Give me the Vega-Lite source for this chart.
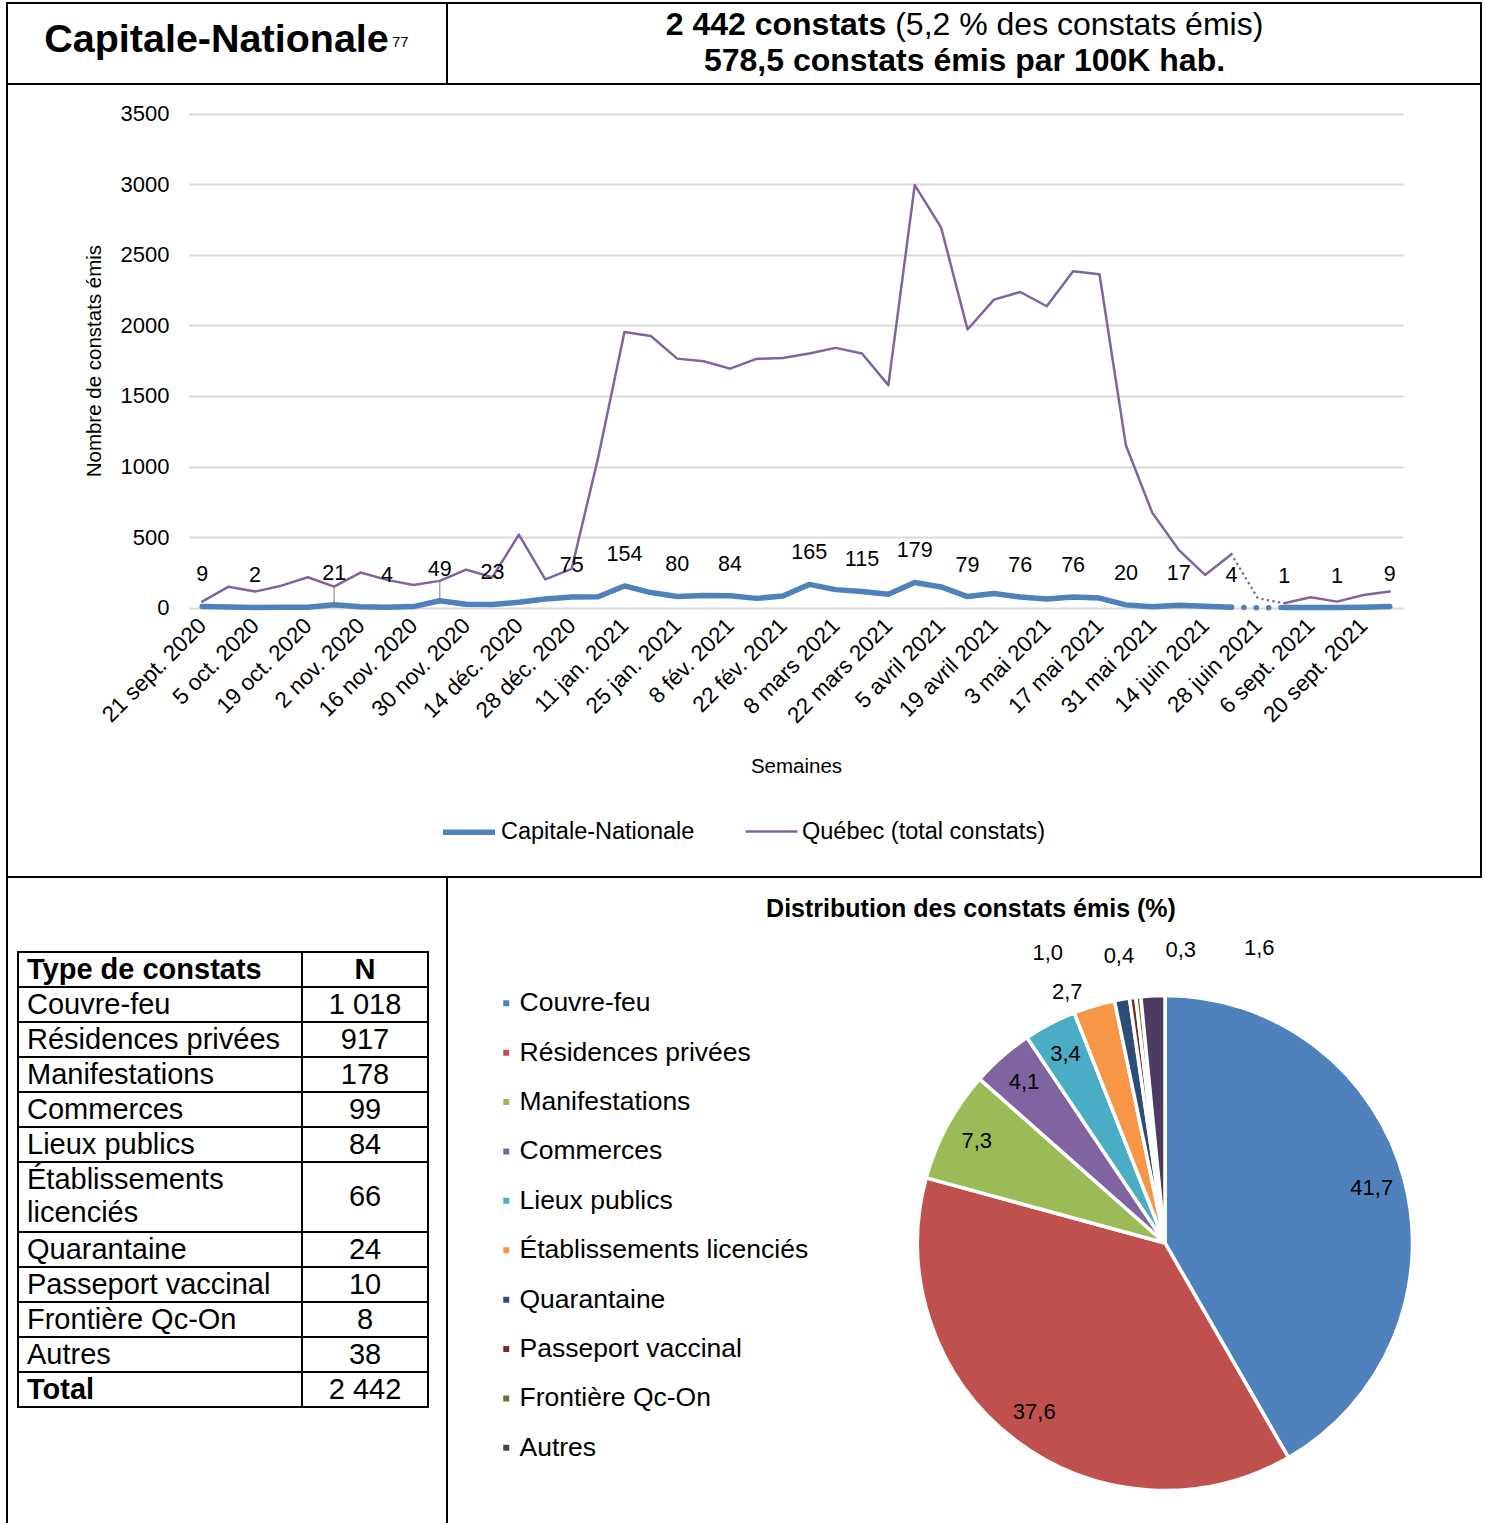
{
  "$schema": "https://vega.github.io/schema/vega-lite/v6.json",
  "background": "white",
  "padding": {"left": 6, "top": 1, "right": 0, "bottom": 0},
  "spacing": 0,
  "bounds": "flush",
  "resolve": {"scale": {"color": "independent", "strokeWidth": "independent"}, "legend": {"color": "independent", "strokeWidth": "independent"}},
  "config": {
    "font": "Liberation Sans",
    "view": {"stroke": "black", "strokeWidth": 2},
    "locale": {"number": {"decimal": ",", "thousands": " ", "grouping": [3], "currency": ["", " $"]}},
    "text": {"color": "black"}
  },
  "datasets": {
    "semaines": [
      {"date": "2020-09-21", "Capitale-Nationale": 9, "Québec (total constats)": 43},
      {"date": "2020-09-28", "Capitale-Nationale": 5, "Québec (total constats)": 149},
      {"date": "2020-10-05", "Capitale-Nationale": 2, "Québec (total constats)": 114},
      {"date": "2020-10-12", "Capitale-Nationale": 3, "Québec (total constats)": 156},
      {"date": "2020-10-19", "Capitale-Nationale": 3, "Québec (total constats)": 216},
      {"date": "2020-10-26", "Capitale-Nationale": 21, "Québec (total constats)": 149},
      {"date": "2020-11-02", "Capitale-Nationale": 6, "Québec (total constats)": 249},
      {"date": "2020-11-09", "Capitale-Nationale": 4, "Québec (total constats)": 197},
      {"date": "2020-11-16", "Capitale-Nationale": 8, "Québec (total constats)": 161},
      {"date": "2020-11-23", "Capitale-Nationale": 49, "Québec (total constats)": 190},
      {"date": "2020-11-30", "Capitale-Nationale": 25, "Québec (total constats)": 270},
      {"date": "2020-12-07", "Capitale-Nationale": 23, "Québec (total constats)": 216},
      {"date": "2020-12-14", "Capitale-Nationale": 38, "Québec (total constats)": 518},
      {"date": "2020-12-21", "Capitale-Nationale": 62, "Québec (total constats)": 201},
      {"date": "2020-12-28", "Capitale-Nationale": 75, "Québec (total constats)": 275},
      {"date": "2021-01-04", "Capitale-Nationale": 78, "Québec (total constats)": 1060},
      {"date": "2021-01-11", "Capitale-Nationale": 154, "Québec (total constats)": 1953},
      {"date": "2021-01-18", "Capitale-Nationale": 107, "Québec (total constats)": 1924},
      {"date": "2021-01-25", "Capitale-Nationale": 80, "Québec (total constats)": 1764},
      {"date": "2021-02-01", "Capitale-Nationale": 86, "Québec (total constats)": 1745},
      {"date": "2021-02-08", "Capitale-Nationale": 84, "Québec (total constats)": 1693},
      {"date": "2021-02-15", "Capitale-Nationale": 66, "Québec (total constats)": 1762},
      {"date": "2021-02-22", "Capitale-Nationale": 83, "Québec (total constats)": 1769},
      {"date": "2021-03-01", "Capitale-Nationale": 165, "Québec (total constats)": 1800},
      {"date": "2021-03-08", "Capitale-Nationale": 128, "Québec (total constats)": 1840},
      {"date": "2021-03-15", "Capitale-Nationale": 115, "Québec (total constats)": 1800},
      {"date": "2021-03-22", "Capitale-Nationale": 95, "Québec (total constats)": 1576},
      {"date": "2021-03-29", "Capitale-Nationale": 179, "Québec (total constats)": 2993},
      {"date": "2021-04-05", "Capitale-Nationale": 147, "Québec (total constats)": 2692},
      {"date": "2021-04-12", "Capitale-Nationale": 79, "Québec (total constats)": 1970},
      {"date": "2021-04-19", "Capitale-Nationale": 101, "Québec (total constats)": 2182},
      {"date": "2021-04-26", "Capitale-Nationale": 76, "Québec (total constats)": 2236},
      {"date": "2021-05-03", "Capitale-Nationale": 62, "Québec (total constats)": 2135},
      {"date": "2021-05-10", "Capitale-Nationale": 76, "Québec (total constats)": 2383},
      {"date": "2021-05-17", "Capitale-Nationale": 68, "Québec (total constats)": 2362},
      {"date": "2021-05-24", "Capitale-Nationale": 20, "Québec (total constats)": 1150},
      {"date": "2021-05-31", "Capitale-Nationale": 6, "Québec (total constats)": 672},
      {"date": "2021-06-07", "Capitale-Nationale": 17, "Québec (total constats)": 410},
      {"date": "2021-06-14", "Capitale-Nationale": 11, "Québec (total constats)": 232},
      {"date": "2021-06-21", "Capitale-Nationale": 4, "Québec (total constats)": 379},
      {"date": "2021-06-28", "Capitale-Nationale": 0, "Québec (total constats)": 67},
      {"date": "2021-08-30", "Capitale-Nationale": 1, "Québec (total constats)": 31},
      {"date": "2021-09-06", "Capitale-Nationale": 2, "Québec (total constats)": 74},
      {"date": "2021-09-13", "Capitale-Nationale": 1, "Québec (total constats)": 43},
      {"date": "2021-09-20", "Capitale-Nationale": 3, "Québec (total constats)": 90},
      {"date": "2021-09-27", "Capitale-Nationale": 9, "Québec (total constats)": 114}
    ],
    "constats": [
      {"type": "Couvre-feu", "n": 1018, "pct": 41.7},
      {"type": "Résidences privées", "n": 917, "pct": 37.6},
      {"type": "Manifestations", "n": 178, "pct": 7.3},
      {"type": "Commerces", "n": 99, "pct": 4.1},
      {"type": "Lieux publics", "n": 84, "pct": 3.4},
      {"type": "Établissements licenciés", "n": 66, "pct": 2.7},
      {"type": "Quarantaine", "n": 24, "pct": 1.0},
      {"type": "Passeport vaccinal", "n": 10, "pct": 0.4},
      {"type": "Frontière Qc-On", "n": 8, "pct": 0.3},
      {"type": "Autres", "n": 38, "pct": 1.6}
    ]
  },
  "vconcat": [
    {
      "width": 1474,
      "height": 81,
      "data": {"values": [{"titre": "Capitale-Nationale", "note": "77", "a": "2 442 constats", "b": "(5,2 % des constats émis)", "c": "578,5 constats émis par 100K hab."}]},
      "layer": [
        {"mark": {"type": "rule", "strokeWidth": 2, "color": "black"},
         "encoding": {
           "x": {"datum": 440, "type": "quantitative", "scale": {"domain": [0, 1474], "range": [0, 1474], "nice": false, "zero": false}, "axis": null},
           "y": {"datum": 0, "type": "quantitative", "scale": {"domain": [0, 81], "range": [0, 81], "nice": false, "zero": false}, "axis": null},
           "y2": {"datum": 81}}},
        {"mark": {"type": "text", "fontSize": 39.5, "fontWeight": "bold", "align": "center", "baseline": "alphabetic"},
         "encoding": {"x": {"datum": 209.5, "type": "quantitative"}, "y": {"datum": 48.7, "type": "quantitative"}, "text": {"field": "titre"}}},
        {"mark": {"type": "text", "fontSize": 15, "align": "left", "baseline": "alphabetic"},
         "encoding": {"x": {"datum": 385, "type": "quantitative"}, "y": {"datum": 43.7, "type": "quantitative"}, "text": {"field": "note"}}},
        {"mark": {"type": "text", "fontSize": 32, "fontWeight": "bold", "align": "right", "baseline": "alphabetic"},
         "encoding": {"x": {"datum": 879.3, "type": "quantitative"}, "y": {"datum": 32, "type": "quantitative"}, "text": {"field": "a"}}},
        {"mark": {"type": "text", "fontSize": 32, "align": "left", "baseline": "alphabetic"},
         "encoding": {"x": {"datum": 888.2, "type": "quantitative"}, "y": {"datum": 32, "type": "quantitative"}, "text": {"field": "b"}}},
        {"mark": {"type": "text", "fontSize": 32, "fontWeight": "bold", "align": "center", "baseline": "alphabetic"},
         "encoding": {"x": {"datum": 957.5, "type": "quantitative"}, "y": {"datum": 68, "type": "quantitative"}, "text": {"field": "c"}}}
      ]
    },
    {
      "width": 1474,
      "height": 793,
      "data": {"name": "semaines"},
      "transform": [{"fold": ["Capitale-Nationale", "Québec (total constats)"], "as": ["serie", "valeur"]}],
      "encoding": {
        "x": {
          "field": "date",
          "type": "ordinal",
          "scale": {"type": "point", "range": [182, 1396], "padding": 0.5},
          "axis": {
            "orient": "bottom",
            "offset": -269.3,
            "domain": false,
            "ticks": false,
            "grid": false,
            "labelAngle": -45,
            "labelAlign": "right",
            "labelBaseline": "middle",
            "labelPadding": 14,
            "labelFontSize": 22.5,
            "labelColor": "black",
            "labelOverlap": false,
            "labelLimit": 400,
            "labelExpr": "((time(toDate(datum.value)) - time(toDate('2020-09-21'))) / 604800000) % 2 == 0 ? (utcdate(toDate(datum.value)) + ' ' + ['jan.', 'fév.', 'mars', 'avril', 'mai', 'juin', 'juil.', 'août', 'sept.', 'oct.', 'nov.', 'déc.'][utcmonth(toDate(datum.value))] + ' ' + utcyear(toDate(datum.value))) : ''",
            "title": "Semaines",
            "titleFontSize": 20.5,
            "titleFontWeight": "normal",
            "titleColor": "black",
            "titlePadding": 29
          }
        },
        "y": {
          "field": "valeur",
          "type": "quantitative",
          "scale": {"domain": [0, 3500], "range": [523.7, 29.5], "nice": false, "zero": false},
          "axis": {
            "orient": "left",
            "offset": -182,
            "values": [0, 500, 1000, 1500, 2000, 2500, 3000, 3500],
            "format": "d",
            "domain": false,
            "ticks": false,
            "grid": true,
            "gridColor": "#D9D9D9",
            "gridWidth": 2,
            "labelFontSize": 22,
            "labelPadding": 20,
            "labelColor": "black",
            "title": "Nombre de constats émis",
            "titleFontSize": 20.5,
            "titleFontWeight": "normal",
            "titleColor": "black",
            "titlePadding": 16
          }
        }
      },
      "layer": [
        {
          "transform": [{"filter": {"and": [{"field": "serie", "equal": "Capitale-Nationale"}, {"field": "date", "oneOf": ["2020-10-26", "2020-11-23"]}]}}],
          "mark": {"type": "rule", "color": "#A6A6A6", "strokeWidth": 1.5},
          "encoding": {"y2": {"field": "Québec (total constats)"}}
        },
        {
          "transform": [{"filter": "datum.date <= '2021-06-21'"}],
          "mark": {"type": "line", "strokeJoin": "round", "strokeCap": "round"},
          "encoding": {
            "color": {"field": "serie", "type": "nominal", "scale": {"domain": ["Capitale-Nationale", "Québec (total constats)"], "range": ["#4F81BD", "#8064A2"]},
              "legend": {"orient": "none", "legendX": 433, "legendY": 719, "direction": "horizontal", "title": null, "symbolType": "stroke", "symbolSize": 2704, "labelFontSize": 23.5, "labelColor": "black", "labelLimit": 0, "columnPadding": 45, "labelOffset": 3, "padding": 0}},
            "strokeWidth": {"field": "serie", "type": "nominal", "scale": {"domain": ["Capitale-Nationale", "Québec (total constats)"], "range": [5.5, 2.5]},
              "legend": {"orient": "none", "legendX": 433, "legendY": 719, "direction": "horizontal", "title": null, "symbolType": "stroke", "symbolSize": 2704, "labelFontSize": 23.5, "labelColor": "black", "labelLimit": 0, "columnPadding": 45, "labelOffset": 3, "padding": 0}}
          }
        },
        {
          "transform": [{"filter": "datum.date >= '2021-08-30'"}],
          "mark": {"type": "line", "strokeJoin": "round", "strokeCap": "round"},
          "encoding": {
            "color": {"field": "serie", "type": "nominal"},
            "strokeWidth": {"field": "serie", "type": "nominal"}
          }
        },
        {
          "transform": [{"filter": "datum.serie == 'Québec (total constats)' && datum.date >= '2021-06-21' && datum.date <= '2021-08-30'"}],
          "mark": {"type": "line", "strokeCap": "round", "strokeDash": [0.1, 5.5]},
          "encoding": {
            "color": {"field": "serie", "type": "nominal"},
            "strokeWidth": {"field": "serie", "type": "nominal"}
          }
        },
        {
          "transform": [{"filter": "datum.serie == 'Capitale-Nationale' && datum.date >= '2021-06-21' && datum.date <= '2021-08-30'"}],
          "mark": {"type": "line", "strokeCap": "round", "strokeDash": [0.1, 12.3]},
          "encoding": {
            "color": {"field": "serie", "type": "nominal"},
            "strokeWidth": {"field": "serie", "type": "nominal"}
          }
        },
        {
          "transform": [{"filter": {"and": [{"field": "serie", "equal": "Capitale-Nationale"}, {"field": "date", "oneOf": ["2020-09-21", "2020-10-05", "2020-10-26", "2020-11-09", "2020-11-23", "2020-12-07", "2020-12-28", "2021-01-11", "2021-01-25", "2021-02-08", "2021-03-01", "2021-03-15", "2021-03-29", "2021-04-12", "2021-04-26", "2021-05-10", "2021-05-24", "2021-06-07", "2021-06-21", "2021-08-30", "2021-09-13", "2021-09-27"]}]}}],
          "mark": {"type": "text", "fontSize": 21.5, "baseline": "middle", "dy": -31, "color": "black"},
          "encoding": {"text": {"field": "valeur", "type": "quantitative", "format": "d"}}
        }
      ]
    },
    {
      "hconcat": [
        {
          "width": 440,
          "height": 732,
          "layer": [
            {
              "data": {"values": [{"c1": "Type de constats", "c2": "N"}]},
              "layer": [
                {"mark": {"type": "rect", "fillOpacity": 0, "stroke": "black", "strokeWidth": 2},
                 "encoding": {
                   "x": {"datum": 0, "type": "quantitative", "scale": {"domain": [0, 410], "range": [11, 421], "nice": false, "zero": false}, "axis": null},
                   "x2": {"datum": 410},
                   "y": {"datum": 0, "type": "quantitative", "scale": {"domain": [0, 13], "range": [75, 530], "nice": false, "zero": false}, "axis": null},
                   "y2": {"datum": 1}}},
                {"mark": {"type": "text", "fontSize": 29, "fontWeight": "bold", "align": "left", "baseline": "middle"},
                 "encoding": {"x": {"datum": 9, "type": "quantitative"}, "y": {"datum": 0.5, "type": "quantitative"}, "text": {"field": "c1"}}},
                {"mark": {"type": "text", "fontSize": 29, "fontWeight": "bold", "align": "center", "baseline": "middle"},
                 "encoding": {"x": {"datum": 347, "type": "quantitative"}, "y": {"datum": 0.5, "type": "quantitative"}, "text": {"field": "c2"}}}
              ]
            },
            {
              "data": {"name": "constats"},
              "transform": [
                {"calculate": "length(datum.type) > 20 ? 2 : 1", "as": "lignes"},
                {"calculate": "length(datum.type) > 20 ? replace(datum.type, ' ', '\\n') : datum.type", "as": "texte"},
                {"window": [{"op": "sum", "field": "lignes", "as": "cumul"}], "frame": [null, 0]},
                {"calculate": "datum.cumul - datum.lignes + 1", "as": "debut"},
                {"calculate": "datum.cumul + 1", "as": "fin"},
                {"calculate": "(datum.debut + datum.fin) / 2", "as": "milieu"},
                {"calculate": "datum.debut + 0.5", "as": "premiere"}
              ],
              "layer": [
                {"mark": {"type": "rect", "fillOpacity": 0, "stroke": "black", "strokeWidth": 2},
                 "encoding": {"x": {"datum": 0, "type": "quantitative"}, "x2": {"datum": 410}, "y": {"field": "debut", "type": "quantitative"}, "y2": {"field": "fin"}}},
                {"mark": {"type": "text", "fontSize": 29, "align": "left", "baseline": "middle", "lineBreak": "\n", "lineHeight": 33},
                 "encoding": {"x": {"datum": 9, "type": "quantitative"}, "y": {"field": "premiere", "type": "quantitative"}, "text": {"field": "texte"}}},
                {"mark": {"type": "text", "fontSize": 29, "align": "center", "baseline": "middle"},
                 "encoding": {"x": {"datum": 347, "type": "quantitative"}, "y": {"field": "milieu", "type": "quantitative"}, "text": {"field": "n", "type": "quantitative", "format": ",d"}}}
              ]
            },
            {
              "data": {"name": "constats"},
              "transform": [
                {"calculate": "length(datum.type) > 20 ? 2 : 1", "as": "lignes"},
                {"aggregate": [{"op": "sum", "field": "n", "as": "total"}, {"op": "sum", "field": "lignes", "as": "nl"}]},
                {"calculate": "datum.nl + 1", "as": "debut"},
                {"calculate": "datum.nl + 2", "as": "fin"},
                {"calculate": "datum.nl + 1.5", "as": "milieu"}
              ],
              "layer": [
                {"mark": {"type": "rect", "fillOpacity": 0, "stroke": "black", "strokeWidth": 2},
                 "encoding": {"x": {"datum": 0, "type": "quantitative"}, "x2": {"datum": 410}, "y": {"field": "debut", "type": "quantitative"}, "y2": {"field": "fin"}}},
                {"mark": {"type": "text", "fontSize": 29, "fontWeight": "bold", "align": "left", "baseline": "middle"},
                 "encoding": {"x": {"datum": 9, "type": "quantitative"}, "y": {"field": "milieu", "type": "quantitative"}, "text": {"value": "Total"}}},
                {"mark": {"type": "text", "fontSize": 29, "align": "center", "baseline": "middle"},
                 "encoding": {"x": {"datum": 347, "type": "quantitative"}, "y": {"field": "milieu", "type": "quantitative"}, "text": {"field": "total", "type": "quantitative", "format": ",d"}}}
              ]
            },
            {
              "data": {"values": [{}]},
              "mark": {"type": "rule", "strokeWidth": 2, "color": "black"},
              "encoding": {"x": {"datum": 284, "type": "quantitative"}, "y": {"datum": 0, "type": "quantitative"}, "y2": {"datum": 13}}
            }
          ]
        },
        {
          "width": 402,
          "height": 732,
          "view": {"stroke": null},
          "data": {"values": []},
          "mark": "point",
          "encoding": {}
        },
        {
          "width": 632,
          "height": 732,
          "view": {"stroke": null},
          "title": {"text": "Distribution des constats émis (%)", "fontSize": 25, "fontWeight": "bold", "anchor": "middle", "frame": "group", "offset": -65, "dx": -194, "baseline": "alphabetic", "color": "black"},
          "data": {"name": "constats"},
          "transform": [{"window": [{"op": "row_number", "as": "rang"}]}],
          "layer": [
            {
              "encoding": {
                "theta": {"field": "n", "type": "quantitative", "stack": true},
                "order": {"field": "rang", "type": "quantitative"}
              },
              "layer": [
                {
                  "mark": {"type": "arc", "outerRadius": 247.5, "stroke": "white", "strokeWidth": 3.5},
                  "encoding": {
                    "color": {"field": "type", "type": "nominal",
                      "scale": {"domain": ["Couvre-feu", "Résidences privées", "Manifestations", "Commerces", "Lieux publics", "Établissements licenciés", "Quarantaine", "Passeport vaccinal", "Frontière Qc-On", "Autres"], "range": ["#4F81BD", "#C0504D", "#9BBB59", "#8064A2", "#4BACC6", "#F79646", "#2C4D75", "#772C2A", "#5F7530", "#4D3B62"]},
                      "legend": {"orient": "none", "legendX": -356, "legendY": 113, "title": null, "symbolType": "square", "symbolSize": 56, "labelFontSize": 26.5, "labelColor": "black", "labelLimit": 0, "rowPadding": 22.4, "labelOffset": 0, "padding": 0}}
                  }
                },
                {
                  "mark": {"type": "text", "radius": 214, "fontSize": 22, "color": "black"},
                  "encoding": {
                    "detail": {"field": "type", "type": "nominal"},
                    "text": {"condition": {"test": "datum.n < 70", "value": ""}, "field": "pct", "type": "quantitative", "format": ".1f"}
                  }
                }
              ]
            },
            {
              "transform": [{"filter": "datum.n < 70"}],
              "mark": {"type": "text", "fontSize": 22, "color": "black"},
              "encoding": {
                "theta": {"field": "rang", "type": "quantitative", "scale": {"type": "linear", "domain": [6, 7, 8, 9, 10], "range": [-0.372, -0.384, -0.159, 0.054, 0.309], "zero": false, "nice": false}},
                "radius": {"field": "rang", "type": "quantitative", "scale": {"type": "linear", "domain": [6, 7, 8, 9, 10], "range": [269, 313, 291, 293, 310], "zero": false, "nice": false}},
                "text": {"field": "pct", "type": "quantitative", "format": ".1f"}
              }
            }
          ],
          "resolve": {"scale": {"theta": "independent", "radius": "independent"}}
        },
        {
          "width": 1,
          "height": 732,
          "data": {"values": []},
          "mark": "point",
          "encoding": {}
        }
      ],
      "spacing": 0,
      "bounds": "flush",
      "resolve": {"scale": {"color": "independent"}, "legend": {"color": "independent"}}
    }
  ]
}
